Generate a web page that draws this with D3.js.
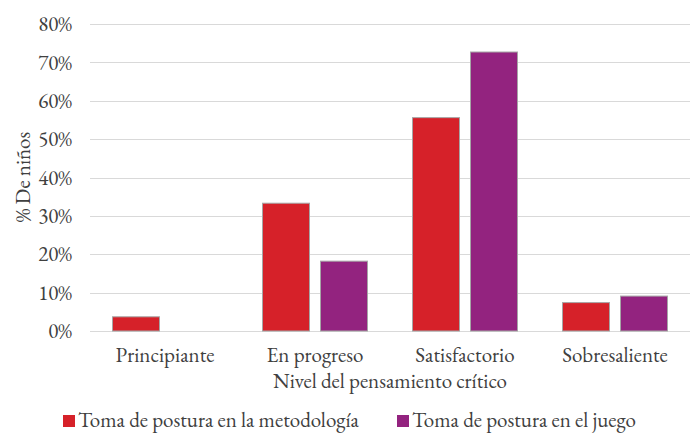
<!DOCTYPE html>
<html><head><meta charset="utf-8">
<script src="https://cdn.jsdelivr.net/npm/d3@7"></script>
<style>body{margin:0;background:#fff}svg{display:block}</style>
</head><body><svg id="c" width="695" height="433"></svg>
<script>
const categories = ["Principiante","En progreso","Satisfactorio","Sobresaliente"];
const seriesNames = ["Toma de postura en la metodología","Toma de postura en el juego"];
const metodologia = [3.7, 33.3, 55.6, 7.4];
const juego = [0, 18.2, 72.7, 9.1];
const yTicks = [0,10,20,30,40,50,60,70,80];
const colors = ["#d62129","#93237f"];

const FONT = "'EB Garamond','Liberation Serif',serif";
const FS = "21px";
const TXT = "#404040";

const svg = d3.select("#c");
const m = {left:90, right:5, top:24, bottom:102};
const W = 695, H = 433;
const x0 = d3.scaleBand().domain(categories).range([m.left, W-m.right]).paddingInner(0.3).paddingOuter(0.15);
const x1 = d3.scaleBand().domain([0,1]).range([0, x0.bandwidth()]).paddingInner(0.19);
const y = d3.scaleLinear().domain([0,80]).range([H-m.bottom, m.top]);

function styleText(sel){ sel.style("font-family",FONT).style("font-size",FS).style("fill",TXT); }

// grid
svg.append("g").selectAll("line").data(yTicks).join("line")
  .attr("x1", m.left).attr("x2", W-m.right)
  .attr("y1", d=>Math.round(y(d))+0.5).attr("y2", d=>Math.round(y(d))+0.5)
  .attr("stroke","#d9d9d9").attr("stroke-width",1);

// y axis labels
const yAxis = d3.axisLeft(y).tickValues(yTicks).tickFormat(d=>d+"%").tickSize(0).tickPadding(18);
const ga = svg.append("g").attr("transform",`translate(${m.left},0)`).call(yAxis);
ga.select(".domain").remove();
ga.selectAll("text").call(styleText);

// bars
const series = [metodologia, juego];
categories.forEach((c,i)=>{
  series.forEach((s,j)=>{
    if (s[i] <= 0) return;
    svg.append("rect")
      .attr("x", x0(c)+x1(j)).attr("width", x1.bandwidth())
      .attr("y", y(s[i])).attr("height", y(0)-y(s[i]))
      .attr("fill", colors[j]).attr("stroke","#a6a6a6").attr("stroke-width",1);
  });
});

// x axis
const xAxis = d3.axisBottom(x0).tickSize(0).tickPadding(16);
const gx = svg.append("g").attr("transform",`translate(0,${H-m.bottom})`).call(xAxis);
gx.select(".domain").remove();
gx.selectAll("text").call(styleText);

// axis titles
svg.append("text").attr("x", (m.left+W-m.right)/2).attr("y", 388).attr("text-anchor","middle")
  .call(styleText).text("Nivel del pensamiento crítico");
svg.append("text").attr("transform",`translate(30,177) rotate(-90)`).attr("text-anchor","middle")
  .call(styleText).text("% De niños");

// legend
const legX = [63, 397];
seriesNames.forEach((n,j)=>{
  svg.append("rect").attr("x", legX[j]).attr("y", 415).attr("width", 12).attr("height", 12).attr("fill", colors[j]);
  svg.append("text").attr("x", legX[j]+15).attr("y", 427).call(styleText).text(n);
});
</script></body></html>
